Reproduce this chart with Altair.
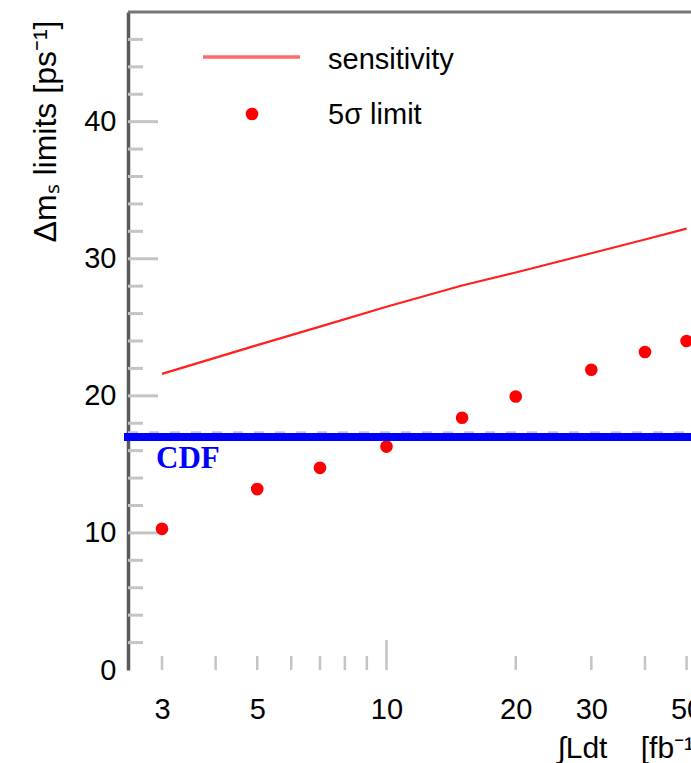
import altair as alt
import pandas as pd

# ---------------- data ----------------
lumi = [3, 5, 7, 10, 15, 20, 30, 40, 50]
limit_5sigma = [10.3, 13.2, 14.75, 16.3, 18.4, 19.95, 21.9, 23.2, 24.0]
sensitivity = [21.6, 23.7, 25.05, 26.5, 28.05, 29.0, 30.4, 31.4, 32.2]
cdf_value = 17.0
cdf_reference = 17.35
cdf_label = "CDF"
legend_labels = ["sensitivity", "5σ limit"]

x_label_values = [3, 5, 10, 20, 30, 50]
y_label_values = [0, 10, 20, 30, 40]
x_minor_ticks = [3, 4, 5, 6, 7, 8, 9, 20, 30, 40, 50]
x_major_ticks = [10]
y_minor_ticks = [2, 4, 6, 8, 12, 14, 16, 18, 22, 24, 26, 28, 32, 34, 36, 38, 42, 44, 46]
y_major_ticks = [10, 20, 30, 40]

x_domain = [2.5, 51.2]
y_domain = [0, 48]

# ---------------- layout / style ----------------
W, H = 563, 658
FONT = "Liberation Sans Narrow, Liberation Sans, sans-serif"
TICK_COLOR = "#c4c4c4"
NBSP = "\u00a0"

xs = alt.Scale(type="log", domain=x_domain, nice=False)
ys = alt.Scale(domain=y_domain, nice=False, zero=False)

df = pd.DataFrame({"lumi": lumi, "limit": limit_5sigma, "sens": sensitivity})

x_axis = alt.Axis(
    values=x_label_values, format="d", ticks=False, grid=False, domain=False,
    labelFont=FONT, labelFontSize=29, labelColor="black", labelPadding=25,
    labelFlush=False, labelOverlap=False,
    title="∫Ldt" + NBSP * 4 + "[fb⁻¹]", titleFont=FONT, titleFontSize=30, titleFontWeight="normal",
    titleColor="black", titleX=429, titleY=87, titleAlign="left", titleBaseline="alphabetic",
)
y_axis = alt.Axis(
    values=y_label_values, ticks=False, grid=False, domain=True,
    domainColor="#5a5a5a", domainWidth=3.5,
    labelFont=FONT, labelFontSize=29, labelColor="black", labelPadding=12,
    labelFlush=False, labelOverlap=False,
    title="Δmₛ" + NBSP + "limits" + NBSP + "[ps⁻¹]", titleFont=FONT, titleFontSize=32,
    titleFontWeight="normal",
    titleColor="black", titleAngle=270, titleAlign="right", titleBaseline="middle",
    titleX=-83, titleY=8,
)


def X(field):
    return alt.X(field, scale=xs, axis=x_axis)


def Y(field):
    return alt.Y(field, scale=ys, axis=y_axis)


points = alt.Chart(df).mark_circle(size=160, color="#ff0000", opacity=1).encode(
    x=X("lumi:Q"), y=Y("limit:Q"))

line = alt.Chart(df).mark_line(color="#ff2020", strokeWidth=2.2).encode(
    x=X("lumi:Q"), y=Y("sens:Q"))

# inward ticks
xt_minor = alt.Chart(pd.DataFrame({"lumi": x_minor_ticks})).mark_rule(color=TICK_COLOR, strokeWidth=2.5).encode(
    x=X("lumi:Q"), y=alt.value(H), y2=alt.value(H - 14))
xt_major = alt.Chart(pd.DataFrame({"lumi": x_major_ticks})).mark_rule(color=TICK_COLOR, strokeWidth=2.5).encode(
    x=X("lumi:Q"), y=alt.value(H), y2=alt.value(H - 30))
yt_minor = alt.Chart(pd.DataFrame({"limit": y_minor_ticks})).mark_rule(color=TICK_COLOR, strokeWidth=3).encode(
    y=Y("limit:Q"), x=alt.value(0), x2=alt.value(15))
yt_major = alt.Chart(pd.DataFrame({"limit": y_major_ticks})).mark_rule(color=TICK_COLOR, strokeWidth=3).encode(
    y=Y("limit:Q"), x=alt.value(0), x2=alt.value(30))

top_frame = alt.Chart(pd.DataFrame({"a": [0]})).mark_rule(color="#777777", strokeWidth=3).encode(
    x=alt.value(0), x2=alt.value(W), y=alt.value(0))

cdf_df = pd.DataFrame({"limit": [cdf_value]})
cdf_ref_df = pd.DataFrame({"limit": [cdf_reference]})

cdf_dash = alt.Chart(cdf_ref_df).mark_rule(color="#c8c8c8", strokeWidth=2, strokeDash=[10, 11]).encode(
    y=Y("limit:Q"), x=alt.value(0), x2=alt.value(W))
cdf_line = alt.Chart(cdf_df).mark_rule(color="#0000ff", strokeWidth=8).encode(
    y=Y("limit:Q"), x=alt.value(-4), x2=alt.value(W))
cdf_text = alt.Chart(pd.DataFrame({"lumi": [lumi[0]], "limit": [cdf_value], "t": [cdf_label]})).mark_text(
    align="left", baseline="alphabetic", dx=-6, dy=31, font="Liberation Serif",
    fontWeight="bold", fontSize=31, color="#0000ff").encode(
    x=X("lumi:Q"), y=Y("limit:Q"), text="t:N")

# legend
leg_line = alt.Chart(pd.DataFrame({"a": [0]})).mark_rule(color="#ff6a6a", strokeWidth=3.5).encode(
    x=alt.value(75), x2=alt.value(172), y=alt.value(45))
leg_dot = alt.Chart(pd.DataFrame({"a": [0]})).mark_circle(size=160, color="#ff0000", opacity=1).encode(
    x=alt.value(124), y=alt.value(102))
leg_t1 = alt.Chart(pd.DataFrame({"t": [legend_labels[0]]})).mark_text(
    align="left", baseline="alphabetic", font=FONT, fontSize=29, color="black").encode(
    x=alt.value(200), y=alt.value(57), text="t:N")
leg_t2 = alt.Chart(pd.DataFrame({"t": [legend_labels[1]]})).mark_text(
    align="left", baseline="alphabetic", font=FONT, fontSize=29, color="black").encode(
    x=alt.value(200), y=alt.value(112), text="t:N")

chart = alt.layer(
    xt_minor, xt_major, yt_minor, yt_major, top_frame, line,
    cdf_dash, points, cdf_line, cdf_text, leg_line, leg_dot, leg_t1, leg_t2,
).properties(
    width=W, height=H,
    autosize=alt.AutoSizeParams(type="none"),
    padding={"left": 128, "top": 12, "right": 0, "bottom": 93},
    background="white",
).configure_view(stroke=None)

chart.save("out.html", embed_options={"renderer": "svg", "actions": False})
